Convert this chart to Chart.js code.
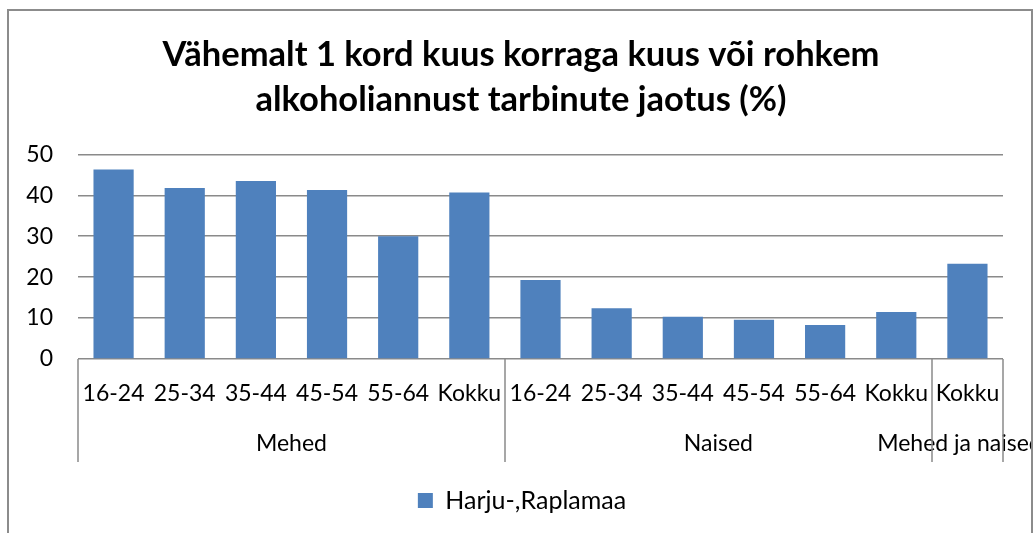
<!DOCTYPE html>
<html>
<head>
<meta charset="utf-8">
<script src="https://cdn.jsdelivr.net/npm/chart.js@4.4.1/dist/chart.umd.min.js"></script>
<style>
  html, body { margin: 0; padding: 0; background: #fff; }
  #wrap { position: relative; width: 1034px; height: 533px; }
</style>
</head>
<body>
<div id="wrap"><canvas id="c" width="1034" height="533"></canvas></div>
<script>
// ---- data ----
const ageLabels = ['16-24', '25-34', '35-44', '45-54', '55-64', 'Kokku', '16-24', '25-34', '35-44', '45-54', '55-64', 'Kokku', 'Kokku'];
const groupNames = ['Mehed', 'Naised', 'Mehed ja naised'];
const groupSizes = [6, 6, 1];
const seriesName = 'Harju-,Raplamaa';
const seriesValues = [46.3, 41.8, 43.5, 41.3, 30.0, 40.7, 19.3, 12.4, 10.3, 9.6, 8.3, 11.5, 23.3];
const yTicks = [0, 10, 20, 30, 40, 50];
const titleLines = ['Vähemalt 1 kord kuus korraga kuus või rohkem', 'alkoholiannust tarbinute jaotus (%)'];

const FONT = 'Lato, "Open Sans", sans-serif';
const GRID = '#8a8a8a';
const TICK_SIZE = 23;

function centreBox(box, cx) {
  if (!box) return;
  const shift = cx - (box.left + box.right) / 2;
  box.left += shift;
  box.right += shift;
}

const multiAxis = {
  id: 'multiAxis',
  afterLayout(chart) {
    // centre legend and title on the outer frame rather than on the plot width
    centreBox(chart.legend, 522);
    centreBox(chart.titleBlock, 521);
  },
  beforeDraw(chart) {
    const ctx = chart.ctx;
    ctx.save();
    ctx.fillStyle = '#fff';
    ctx.fillRect(0, 0, chart.width, chart.height);
    ctx.strokeStyle = '#8c8c8c';
    ctx.lineWidth = 2;
    ctx.strokeRect(8, 10, 1024, 600);
    ctx.restore();
  },
  afterDraw(chart) {
    const ctx = chart.ctx;
    const xs = chart.scales.x;
    const area = chart.chartArea;
    const step = xs.getPixelForValue(1) - xs.getPixelForValue(0);
    ctx.save();
    ctx.beginPath();
    ctx.rect(0, 0, 1031, chart.height);
    ctx.clip();
    ctx.fillStyle = '#000';
    ctx.font = TICK_SIZE + 'px ' + FONT;
    ctx.textAlign = 'center';
    ctx.textBaseline = 'middle';
    ageLabels.forEach((l, i) => {
      ctx.fillText(l, xs.getPixelForValue(i), area.bottom + 35);
    });
    ctx.strokeStyle = GRID;
    ctx.lineWidth = 1.5;
    let start = 0;
    const edges = [];
    groupSizes.forEach((n, g) => {
      const x0 = xs.getPixelForValue(start) - step / 2;
      const x1 = xs.getPixelForValue(start + n - 1) + step / 2;
      edges.push(x0, x1);
      ctx.fillText(groupNames[g], (x0 + x1) / 2 - (g === groupSizes.length - 1 ? 8 : 0), area.bottom + 85);
      start += n;
    });
    [...new Set(edges.map(e => Math.round(e)))].forEach(x => {
      ctx.beginPath();
      ctx.moveTo(x, area.bottom);
      ctx.lineTo(x, area.bottom + 103);
      ctx.stroke();
    });
    ctx.restore();
  }
};

new Chart(document.getElementById('c'), {
  type: 'bar',
  data: {
    labels: ageLabels.map((l, i) => i),
    datasets: [{
      label: seriesName,
      data: seriesValues,
      backgroundColor: '#4F81BD',
      borderWidth: 0,
      categoryPercentage: 1.0,
      barPercentage: 0.565
    }]
  },
  options: {
    responsive: false,
    animation: false,
    layout: { padding: { left: 0, right: 31, top: 0, bottom: 10 } },
    plugins: {
      title: {
        display: true,
        text: titleLines,
        color: '#000',
        font: { family: FONT, size: 34.5, weight: 'bold', lineHeight: 1.31 },
        padding: { top: 32, bottom: 32 }
      },
      legend: {
        position: 'bottom',
        labels: {
          color: '#000',
          boxWidth: 15,
          boxHeight: 15,
          font: { family: FONT, size: 25 }
        }
      },
      tooltip: { enabled: false }
    },
    scales: {
      x: {
        ticks: { display: false },
        grid: { display: false },
        border: { display: false },
        afterFit(s) { s.height = 119; }
      },
      y: {
        min: 0,
        max: 50,
        afterBuildTicks(s) { s.ticks = yTicks.map(v => ({ value: v })); },
        ticks: { color: '#000', padding: 25, font: { family: FONT, size: TICK_SIZE } },
        grid: { color: GRID, lineWidth: 1.5, drawTicks: false },
        border: { display: false },
        afterFit(s) { s.width = 78; }
      }
    }
  },
  plugins: [multiAxis]
});
</script>
</body>
</html>
